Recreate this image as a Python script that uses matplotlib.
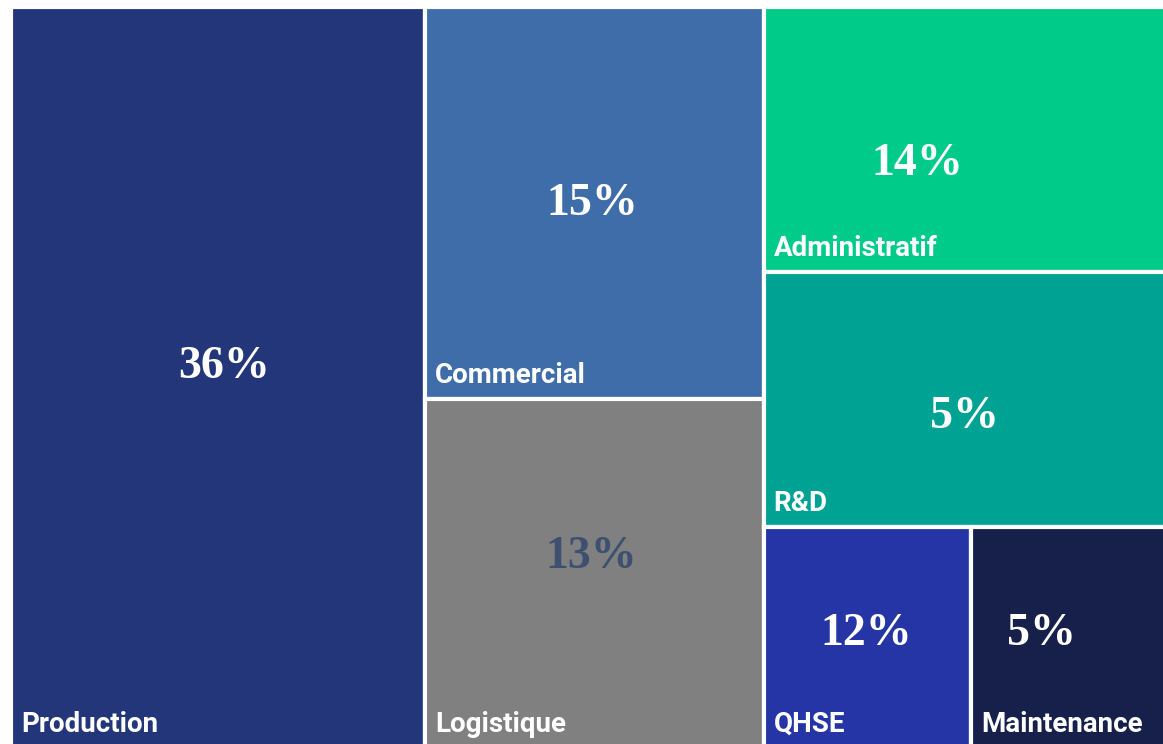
import matplotlib
matplotlib.use("Agg")
import matplotlib.pyplot as plt
from matplotlib.patches import Rectangle

services = ["Production", "Commercial", "Logistique", "Administratif", "R&D", "QHSE", "Maintenance"]
poids = [35.8, 15.5, 13.8, 12.5, 12.0, 5.35, 5.05]
etiquettes = ["36%", "15%", "13%", "14%", "5%", "12%", "5%"]

couleurs = ["#233679", "#3f6daa", "#808080", "#01cb89", "#00a294", "#2535a5", "#16204b"]
couleurs_pct = ["white", "white", "#3d5070", "white", "white", "white", "white"]
# décalage des pourcentages par rapport au centre du rectangle (px)
decalages = [(6, -11), (-2, 1), (-3, -16), (-48, 24), (-1, 17), (-1, -4), (-28, -4)]

# Zone du treemap (en pixels de la figure)
x0, x1, y0, y1 = 11, 1167, 7, 748
W, H = x1 - x0, y1 - y0
total = sum(poids)
p = dict(zip(services, poids))

rects = {}
# colonne 1 : Production
w1 = W * p["Production"] / total
rects["Production"] = (x0, y0, w1, H)
# colonne 2 : Commercial / Logistique
s2 = p["Commercial"] + p["Logistique"]
w2 = W * s2 / total
h = H * p["Commercial"] / s2
rects["Commercial"] = (x0 + w1, y0, w2, h)
rects["Logistique"] = (x0 + w1, y0 + h, w2, H - h)
# colonne 3 : Administratif / R&D / (QHSE | Maintenance)
s3 = p["Administratif"] + p["R&D"] + p["QHSE"] + p["Maintenance"]
w3 = W * s3 / total
xc = x0 + w1 + w2
ha_ = H * p["Administratif"] / s3
hr = H * p["R&D"] / s3
rects["Administratif"] = (xc, y0, w3, ha_)
rects["R&D"] = (xc, y0 + ha_, w3, hr)
s4 = p["QHSE"] + p["Maintenance"]
wq = w3 * p["QHSE"] / s4
rects["QHSE"] = (xc, y0 + ha_ + hr, wq, H - ha_ - hr)
rects["Maintenance"] = (xc + wq, y0 + ha_ + hr, w3 - wq, H - ha_ - hr)

fig = plt.figure(figsize=(11.63, 7.44), dpi=100)
ax = fig.add_axes([0, 0, 1, 1])
ax.set_xlim(0, 1163)
ax.set_ylim(744, 0)
ax.axis("off")

for nom, coul, pct, cpct, (dx, dy) in zip(services, couleurs, etiquettes, couleurs_pct, decalages):
    x, y, w, hh = rects[nom]
    ax.add_patch(Rectangle((x, y), w, hh, facecolor=coul, edgecolor="white", linewidth=3))
    ax.text(x + w / 2 + dx, y + hh / 2 + dy, pct, ha="center", va="center",
            color=cpct, fontsize=33, fontweight="bold", family="Liberation Serif")
    ax.text(x + 10, y + hh - 16, nom, ha="left", va="baseline",
            color="white", fontsize=20, fontweight="bold", family="Roboto")

fig.savefig("out.png", dpi=100)
